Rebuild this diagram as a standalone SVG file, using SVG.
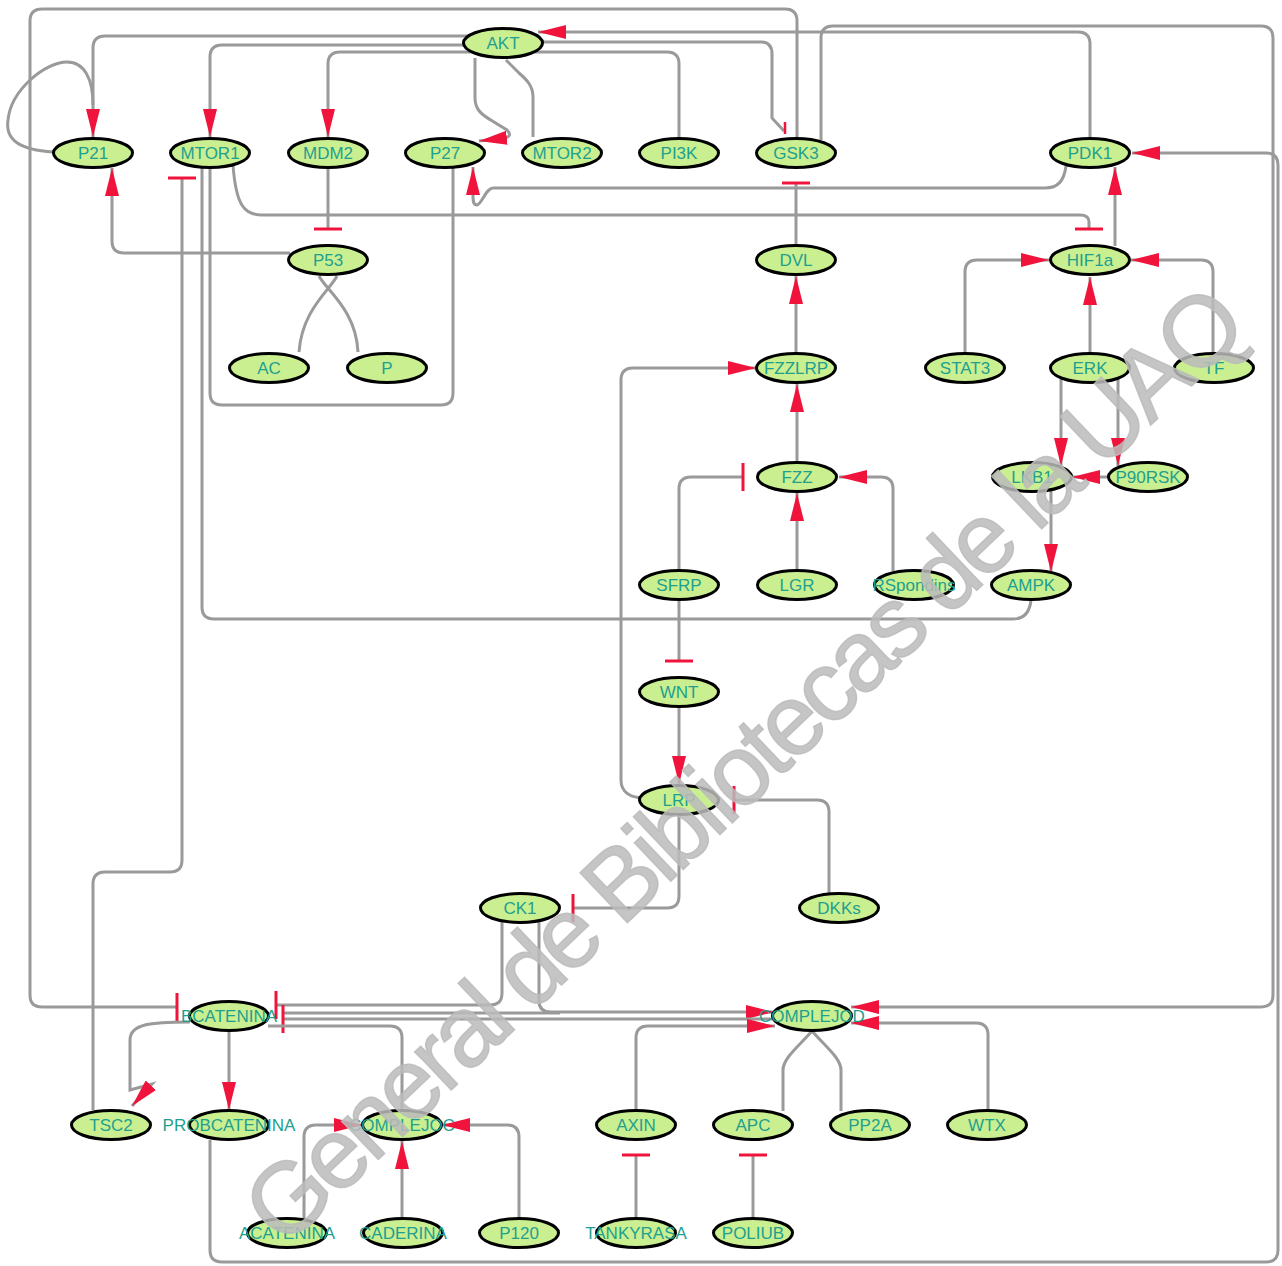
<svg xmlns="http://www.w3.org/2000/svg" width="1282" height="1266" viewBox="0 0 1282 1266">
<style>
.n ellipse{fill:#c9ef90;stroke:#000;stroke-width:3}
.n text{font-family:"Liberation Sans",Arial,sans-serif;font-size:17px;fill:#1f9f8f;text-anchor:middle}
#edges path{fill:none;stroke:#9a9a9a;stroke-width:3}
#edges path.a{marker-end:url(#arr)}
#edges path.i{marker-end:url(#bar)}
#edges path.tick{stroke:#f0143c;stroke-width:2.5}
.wm{font-family:"Liberation Sans",Arial,sans-serif;font-size:100px;fill:#bbbbbb;stroke:#bbbbbb;stroke-width:1.5;fill-opacity:0.85;stroke-opacity:0.85}
</style>
<defs>
<marker id="arr" markerUnits="userSpaceOnUse" markerWidth="28" markerHeight="14" refX="28" refY="7" orient="auto"><path d="M0,0 L28,7 L0,14 z" fill="#f0143c"/></marker>
<marker id="bar" markerUnits="userSpaceOnUse" markerWidth="4" markerHeight="28" refX="2" refY="14" orient="auto"><path d="M2,0 V28" stroke="#f0143c" stroke-width="3" fill="none"/></marker>
</defs>
<rect width="1282" height="1266" fill="#fff"/>
<g id="edges">
<path class="i" d="M797,137 V21 Q797,9 785,9 H42 Q30,9 30,21 V995 Q30,1007 42,1007 H177"/>
<path class="a" d="M480,36 H105 Q93,36 93,48 V137"/>
<path d="M53,152 C20,150 5,140 8,120 C11,90 45,62 67,62 C85,62 93,80 93,105"/>
<path class="a" d="M480,45 H222 Q210,45 210,57 V137"/>
<path class="a" d="M480,52 H340 Q328,52 328,64 V137"/>
<path class="a" d="M290,253 H124 Q112,253 112,241 V168"/>
<path class="i" d="M328,168 V229"/>
<path class="i" d="M93,1110 V884 Q93,872 105,872 H170 Q182,872 182,860 V178"/>
<path d="M1031,600 Q1029,619 1013,619 H214 Q202,619 202,607 V167"/>
<path d="M453,168 V393 Q453,405 441,405 H222 Q210,405 210,393 V168"/>
<path class="i" d="M233,165 C236,205 244,215 262,215 H1080 Q1089,215 1089,222 V229"/>
<path class="a" d="M475,58 V98 C475,110 482,115 494,122 L507,130 Q513,136 505,138 L479,141"/>
<path d="M533,137 V97 C533,86 527,80 519,73 L506,60"/>
<path d="M679,137 V64 Q679,52 667,52 H530"/>
<path class="a" d="M1090,137 V44 Q1090,32 1078,32 H538"/>
<path d="M535,42 H761 Q772,42 772,54 V118 L784,131"/>
<path class="tick" d="M785,122 V134"/>
<path class="a" d="M821,140 V38 Q821,26 833,26 H1261 Q1273,26 1273,38 V995 Q1273,1007 1261,1007 H851"/>
<path class="a" d="M1066,166 C1064,181 1058,188 1045,188 H493 C486,188 482,204 477,205 C473,205 473,200 473,196 V167"/>
<path class="a" d="M1115,246 V167"/>
<path class="a" d="M210,1140 V1250 Q210,1262 222,1262 H1266 Q1278,1262 1278,1250 V165 Q1278,153 1266,153 H1132"/>
<path class="a" d="M965,353 V272 Q965,260 977,260 H1049"/>
<path class="a" d="M1090,353 V277"/>
<path class="a" d="M1213,353 V272 Q1213,260 1201,260 H1131"/>
<path class="a" d="M1061,366 V466"/>
<path class="a" d="M1118,366 V466"/>
<path class="a" d="M1110,477 H1072"/>
<path class="a" d="M1051,490 V572"/>
<path class="i" d="M796,245 V183"/>
<path class="a" d="M796,353 V276"/>
<path class="a" d="M797,462 V384"/>
<path class="a" d="M797,570 V493"/>
<path class="a" d="M893,571 V489 Q893,477 881,477 H839"/>
<path class="i" d="M679,570 V489 Q679,477 691,477 H743"/>
<path class="i" d="M679,600 V661"/>
<path class="a" d="M679,707 V784"/>
<path class="a" d="M645,798 C630,798 621,792 621,780 V380 Q621,368 633,368 H756"/>
<path class="i" d="M829,893 V812 Q829,800 817,800 H734"/>
<path class="i" d="M679,815 V896 Q679,908 667,908 H573"/>
<path class="i" d="M502,922 V993 Q502,1005 490,1005 H276"/>
<path class="a" d="M539,922 V1001 Q539,1012 551,1012 H774"/>
<path d="M283,1013 H560"/>
<path class="i" d="M775,1019 H283"/>
<path class="a" d="M636,1110 V1038 Q636,1026 648,1026 H775"/>
<path class="a" d="M988,1110 V1035 Q988,1023 976,1023 H851"/>
<path d="M783,1111 V1070 C783,1058 800,1045 812,1031"/>
<path d="M841,1111 V1070 C841,1058 824,1045 812,1031"/>
<path d="M268,1026 H390 Q402,1026 402,1038 V1110"/>
<path class="a" d="M190,1022 C150,1022 130,1024 130,1040 V1090 L152,1084 L132,1106"/>
<path class="a" d="M229,1031 V1110"/>
<path class="a" d="M304,1218 V1137 Q304,1125 316,1125 H362"/>
<path class="a" d="M402,1218 V1141"/>
<path class="a" d="M519,1218 V1137 Q519,1125 507,1125 H442"/>
<path class="i" d="M636,1218 V1155"/>
<path class="i" d="M753,1218 V1155"/>
<path d="M337,276 C330,290 302,310 299,352"/>
<path d="M319,276 C326,290 356,310 358,352"/>
</g>
<g id="AKT" class="n"><ellipse cx="503" cy="43" rx="39.5" ry="14.5"/><text x="503" y="49">AKT</text></g>
<g id="P21" class="n"><ellipse cx="93" cy="153" rx="39.5" ry="14.5"/><text x="93" y="159">P21</text></g>
<g id="MTOR1" class="n"><ellipse cx="210" cy="153" rx="39.5" ry="14.5"/><text x="210" y="159">MTOR1</text></g>
<g id="MDM2" class="n"><ellipse cx="328" cy="153" rx="39.5" ry="14.5"/><text x="328" y="159">MDM2</text></g>
<g id="P27" class="n"><ellipse cx="445" cy="153" rx="39.5" ry="14.5"/><text x="445" y="159">P27</text></g>
<g id="MTOR2" class="n"><ellipse cx="562" cy="153" rx="39.5" ry="14.5"/><text x="562" y="159">MTOR2</text></g>
<g id="PI3K" class="n"><ellipse cx="679" cy="153" rx="39.5" ry="14.5"/><text x="679" y="159">PI3K</text></g>
<g id="GSK3" class="n"><ellipse cx="796" cy="153" rx="39.5" ry="14.5"/><text x="796" y="159">GSK3</text></g>
<g id="PDK1" class="n"><ellipse cx="1090" cy="153" rx="39.5" ry="14.5"/><text x="1090" y="159">PDK1</text></g>
<g id="P53" class="n"><ellipse cx="328" cy="260" rx="39.5" ry="14.5"/><text x="328" y="266">P53</text></g>
<g id="DVL" class="n"><ellipse cx="796" cy="260" rx="39.5" ry="14.5"/><text x="796" y="266">DVL</text></g>
<g id="HIF1a" class="n"><ellipse cx="1090" cy="260" rx="39.5" ry="14.5"/><text x="1090" y="266">HIF1a</text></g>
<g id="AC" class="n"><ellipse cx="269" cy="368" rx="39.5" ry="14.5"/><text x="269" y="374">AC</text></g>
<g id="P" class="n"><ellipse cx="387" cy="368" rx="39.5" ry="14.5"/><text x="387" y="374">P</text></g>
<g id="FZZLRP" class="n"><ellipse cx="796" cy="368" rx="39.5" ry="14.5"/><text x="796" y="374">FZZLRP</text></g>
<g id="STAT3" class="n"><ellipse cx="965" cy="368" rx="39.5" ry="14.5"/><text x="965" y="374">STAT3</text></g>
<g id="ERK" class="n"><ellipse cx="1090" cy="368" rx="39.5" ry="14.5"/><text x="1090" y="374">ERK</text></g>
<g id="TF" class="n"><ellipse cx="1214" cy="368" rx="39.5" ry="14.5"/><text x="1214" y="374">TF</text></g>
<g id="FZZ" class="n"><ellipse cx="797" cy="477" rx="39.5" ry="14.5"/><text x="797" y="483">FZZ</text></g>
<g id="LKB1" class="n"><ellipse cx="1032" cy="477" rx="39.5" ry="14.5"/><text x="1032" y="483">LKB1</text></g>
<g id="P90RSK" class="n"><ellipse cx="1148" cy="477" rx="39.5" ry="14.5"/><text x="1148" y="483">P90RSK</text></g>
<g id="SFRP" class="n"><ellipse cx="679" cy="585" rx="39.5" ry="14.5"/><text x="679" y="591">SFRP</text></g>
<g id="LGR" class="n"><ellipse cx="797" cy="585" rx="39.5" ry="14.5"/><text x="797" y="591">LGR</text></g>
<g id="RSpondins" class="n"><ellipse cx="914" cy="585" rx="39.5" ry="14.5"/><text x="914" y="591">RSpondins</text></g>
<g id="AMPK" class="n"><ellipse cx="1031" cy="585" rx="39.5" ry="14.5"/><text x="1031" y="591">AMPK</text></g>
<g id="WNT" class="n"><ellipse cx="679" cy="692" rx="39.5" ry="14.5"/><text x="679" y="698">WNT</text></g>
<g id="LRP" class="n"><ellipse cx="679" cy="800" rx="39.5" ry="14.5"/><text x="679" y="806">LRP</text></g>
<g id="CK1" class="n"><ellipse cx="520" cy="908" rx="39.5" ry="14.5"/><text x="520" y="914">CK1</text></g>
<g id="DKKs" class="n"><ellipse cx="839" cy="908" rx="39.5" ry="14.5"/><text x="839" y="914">DKKs</text></g>
<g id="BCATENINA" class="n"><ellipse cx="229" cy="1016" rx="39.5" ry="14.5"/><text x="229" y="1022">BCATENINA</text></g>
<g id="COMPLEJOD" class="n"><ellipse cx="812" cy="1016" rx="39.5" ry="14.5"/><text x="812" y="1022">COMPLEJOD</text></g>
<g id="TSC2" class="n"><ellipse cx="111" cy="1125" rx="39.5" ry="14.5"/><text x="111" y="1131">TSC2</text></g>
<g id="PROBCATENINA" class="n"><ellipse cx="229" cy="1125" rx="39.5" ry="14.5"/><text x="229" y="1131">PROBCATENINA</text></g>
<g id="COMPLEJOC" class="n"><ellipse cx="402" cy="1125" rx="39.5" ry="14.5"/><text x="402" y="1131">COMPLEJOC</text></g>
<g id="AXIN" class="n"><ellipse cx="636" cy="1125" rx="39.5" ry="14.5"/><text x="636" y="1131">AXIN</text></g>
<g id="APC" class="n"><ellipse cx="753" cy="1125" rx="39.5" ry="14.5"/><text x="753" y="1131">APC</text></g>
<g id="PP2A" class="n"><ellipse cx="870" cy="1125" rx="39.5" ry="14.5"/><text x="870" y="1131">PP2A</text></g>
<g id="WTX" class="n"><ellipse cx="987" cy="1125" rx="39.5" ry="14.5"/><text x="987" y="1131">WTX</text></g>
<g id="ACATENINA" class="n"><ellipse cx="287" cy="1233" rx="39.5" ry="14.5"/><text x="287" y="1239">ACATENINA</text></g>
<g id="CADERINA" class="n"><ellipse cx="403" cy="1233" rx="39.5" ry="14.5"/><text x="403" y="1239">CADERINA</text></g>
<g id="P120" class="n"><ellipse cx="519" cy="1233" rx="39.5" ry="14.5"/><text x="519" y="1239">P120</text></g>
<g id="TANKYRASA" class="n"><ellipse cx="636" cy="1233" rx="39.5" ry="14.5"/><text x="636" y="1239">TANKYRASA</text></g>
<g id="POLIUB" class="n"><ellipse cx="753" cy="1233" rx="39.5" ry="14.5"/><text x="753" y="1239">POLIUB</text></g>
<text class="wm" transform="translate(284,1249) rotate(-43.55)" textLength="1335">General de Bibliotecas de la UAQ</text>
</svg>
